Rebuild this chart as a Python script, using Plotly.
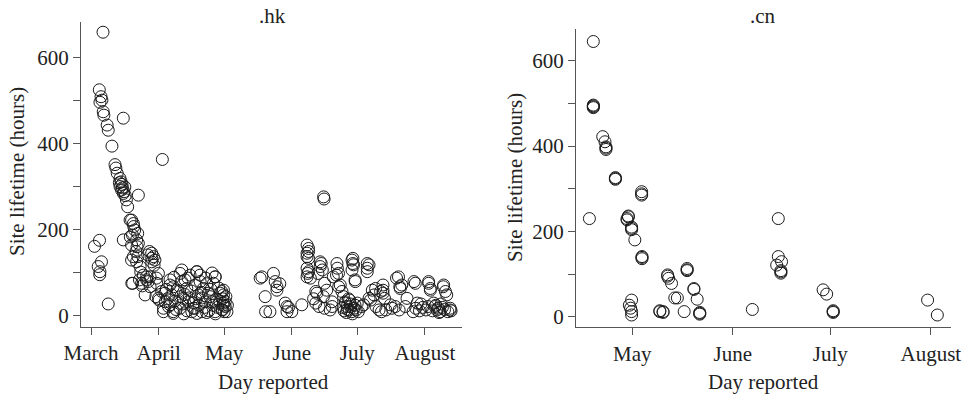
import plotly.graph_objects as go
import pandas as pd

# ---------------- data ----------------
# days since 1 March 2008 (day reported), site lifetime in hours
hk_day = [
    1.6, 3.9, 4.8, 3.3, 4.1, 4.0, 7.9,
    5.5, 3.8, 4.6, 5.0, 4.1, 5.6, 5.9, 7.4, 7.9, 9.6, 14.8, 11.0, 11.4, 12.0, 13.3, 13.3, 13.8,
    14.4, 14.0, 15.1, 15.7, 16.8, 21.7, 32.7,
    14.8, 18.6, 19.4, 18.6, 20.9, 21.7, 21.4, 18.6, 19.4, 20.9, 22.5, 19.1, 22.2, 24.8, 25.5, 27.1,
    27.8, 28.6, 27.8, 26.8, 29.3, 30.1, 30.9, 18.0, 19.6, 21.1, 21.5, 26.0, 27.8, 25.5, 26.2, 27.1,
    18.7, 23.2, 29.7, 31.2, 17.9, 14.2, 15.5, 13.0, 14.8, 16.2, 20.0, 19.0, 20.6, 22.8, 24.0, 23.5,
    28.9, 30.0,
    32.4, 34.0, 33.2, 36.2, 37.0, 36.2, 37.7, 40.8, 41.6, 40.0, 42.3, 40.8, 43.9, 44.6, 46.2, 45.4,
    48.5, 47.7, 49.2, 47.7, 51.5, 52.3, 50.8, 53.8, 55.4, 56.9, 56.9, 60.7, 61.5, 61.5, 62.3, 60.7,
    30.9, 33.2, 33.9, 36.2, 37.7, 41.6, 43.1, 48.5, 50.0, 56.9, 56.1, 59.2, 59.9, 60.7, 61.0, 48.5,
    46.9, 37.7,
    35.0, 35.5, 38.5, 39.0, 39.5, 42.0, 43.0, 44.0, 45.0, 46.0, 47.0, 48.0, 49.5, 50.5, 51.0, 52.0,
    53.0, 54.0, 54.5, 55.0, 56.0, 57.5, 58.0, 58.5, 59.0, 60.0, 61.8, 62.5, 34.5, 38.0, 41.0, 44.5,
    50.0, 52.5, 55.5, 53.0, 57.0, 42.5, 60.3, 60.5, 60.2,
    78.3, 77.5, 79.8, 82.0, 80.0, 83.6, 84.4, 85.2, 85.2, 86.5, 89.0, 89.8, 92.0, 89.8, 96.6, 90.5,
    99.0, 99.7, 99.7, 99.0, 99.0, 99.7, 99.0, 99.7, 99.3, 99.0, 100.5, 103.5, 103.0, 105.0, 105.5,
    105.0, 106.0, 104.0, 107.0, 103.0, 104.5, 107.0, 106.6, 106.8, 110.4, 109.6, 112.7, 112.9,
    113.4, 112.5, 113.5, 110.5, 114.2, 115.0, 115.7, 116.5, 116.7, 117.3, 118.3, 119.6, 120.0,
    120.0, 120.3, 119.6, 121.0, 121.1, 118.5, 119.0, 119.5, 121.5, 117.0, 118.0, 116.0, 122.0,
    111.0, 108.0, 106.5, 102.0, 124.0, 115.5, 117.5, 118.8, 119.8, 120.5, 121.0, 122.5,
    124.9, 126.6, 127.4, 126.6, 126.6, 127.4, 128.9, 128.1, 129.7, 130.4, 130.6, 132.0, 132.7,
    133.8, 133.8, 133.8, 134.5, 133.1, 135.1, 137.2, 137.9, 139.4, 141.2, 140.0, 140.9, 141.7,
    141.5, 142.4, 144.8, 144.0, 148.0, 148.6, 148.8, 147.6, 149.5,
    154.7, 154.7, 155.5, 155.5, 154.5, 157.6, 159.1, 158.5, 160.0, 161.6, 161.4, 162.4, 163.0,
    164.6, 164.6, 165.0, 152.0, 153.5, 156.5, 158.0, 159.5, 161.0, 162.0, 163.5, 160.5, 157.0,
    150.5, 151.2,
]
hk_hours = [
    162, 176, 126, 115, 103, 96, 28,
    660, 526, 510, 502, 497, 475, 467, 444, 432, 395, 460, 352, 344, 332, 320, 301, 312,
    298, 293, 289, 280, 254, 281, 364,
    177, 223, 215, 165, 177, 169, 192, 130, 138, 126, 115, 76, 84, 49, 91, 91,
    146, 138, 126, 150, 130, 76, 99, 184, 208, 161, 138, 142, 134, 84, 80, 68,
    76, 76, 45, 37, 223, 306, 300, 310, 285, 270, 200, 188, 150, 102, 95, 70,
    118, 88,
    57, 33, 10, 72, 49, 26, 6, 99, 80, 57, 41, 18, 64, 33, 10, 95,
    103, 72, 49, 18, 64, 33, 10, 53, 33, 91, 10, 49, 33, 22, 10, 60,
    41, 18, 53, 84, 68, 107, 84, 103, 80, 91, 76, 53, 57, 30, 10, 6,
    18, 10,
    40, 22, 35, 15, 60, 28, 50, 12, 42, 58, 30, 40, 25, 55, 42, 20,
    75, 12, 45, 62, 25, 40, 20, 65, 35, 15, 45, 25, 62, 90, 45, 88,
    95, 88, 100, 8, 5, 5, 40, 25, 14,
    91, 88, 45, 10, 10, 99, 80, 68, 60, 75, 30, 22, 10, 10, 26, 20,
    165, 157, 150, 146, 138, 134, 111, 103, 99, 91, 88, 53, 57, 126, 122,
    115, 107, 99, 76, 30, 22, 18, 277, 272, 33, 14, 122, 111,
    99, 95, 68, 22, 72, 57, 45, 33, 30, 22, 14, 130, 134,
    122, 119, 107, 84, 80, 37, 22, 10, 14, 8, 40, 12, 30,
    91, 60, 45, 40, 22, 20, 15, 28, 5, 18, 25, 10,
    26, 122, 119, 111, 103, 41, 60, 37, 49, 64, 22, 14, 57,
    60, 72, 53, 41, 10, 14, 26, 18, 22, 14, 88, 91, 64,
    68, 72, 41, 22, 80, 76, 18, 10, 30,
    80, 76, 64, 60, 22, 22, 18, 14, 10, 72, 68, 57, 49,
    18, 14, 12, 20, 14, 12, 25, 8, 20, 15, 10, 28, 30,
    12, 28,
]

cn_day = [
    49.0, 47.8, 49.0, 49.0, 49.0, 49.0, 51.9, 52.6, 52.9, 52.9, 52.9, 55.8, 55.8, 55.8,
    59.8, 59.8, 59.4, 59.4, 60.8, 60.8, 60.8, 61.8, 63.9, 63.9, 63.9, 64.0, 64.0, 64.0,
    60.1, 60.8, 60.8, 60.8, 60.5, 69.5, 69.5, 70.5, 70.5, 71.9, 71.9, 72.2, 73.1, 74.1, 74.9,
    77.0, 77.9, 77.9, 77.9, 80.0, 80.0, 81.0, 81.8, 81.8, 81.8, 98.0, 106.0, 106.0, 105.5,
    107.0, 106.8, 106.8, 106.8, 119.8, 120.9, 122.9, 122.9, 122.9, 152.0, 155.0,
]
cn_hours = [
    645, 230, 494, 490, 496, 492, 422, 410, 395, 398, 392, 324, 322, 326,
    234, 236, 227, 230, 207, 210, 204, 180, 293, 288, 285, 139, 136, 141,
    27, 39, 12, 4, 20, 12, 14, 12, 10, 95, 98, 90, 78, 44, 44,
    12, 113, 108, 110, 64, 66, 41, 8, 10, 6, 17, 230, 141, 121,
    129, 105, 102, 108, 63, 53, 12, 10, 14, 39, 4,
]

month_ticks = ["2008-03-01", "2008-04-01", "2008-05-01", "2008-06-01", "2008-07-01", "2008-08-01"]
month_labels = ["March", "April", "May", "June", "July", "August"]
cn_month_ticks = ["2008-05-01", "2008-06-01", "2008-07-01", "2008-08-01"]
cn_month_labels = ["May", "June", "July", "August"]
y_ticks = [0, 100, 200, 300, 400, 500, 600]
y_labels = ["0", "", "200", "", "400", "", "600"]

origin = pd.Timestamp("2008-03-01")
hk_dates = origin + pd.to_timedelta(hk_day, unit="D")
cn_dates = origin + pd.to_timedelta(cn_day, unit="D")

# ---------------- figure ----------------
W, H = 967, 397
FONT = "Liberation Serif"
TXT = "#222222"
AX = "#555555"

marker = dict(symbol="circle-open", size=12, color="#1a1a1a", line=dict(width=1, color="#1a1a1a"))

fig = go.Figure()
fig.add_trace(go.Scatter(x=hk_dates, y=hk_hours, mode="markers", marker=marker,
                         xaxis="x", yaxis="y", showlegend=False, hoverinfo="skip"))
fig.add_trace(go.Scatter(x=cn_dates, y=cn_hours, mode="markers", marker=marker,
                         xaxis="x2", yaxis="y2", showlegend=False, hoverinfo="skip"))

def px(x):
    return x / W

def py(y):
    return 1 - y / H

common_axis = dict(showline=True, linecolor=AX, linewidth=1, ticks="outside", ticklen=7,
                   tickcolor=AX, tickwidth=1, showgrid=False, zeroline=False, automargin=False,
                   tickfont=dict(family=FONT, size=21, color=TXT))

fig.update_layout(
    width=W, height=H, autosize=False,
    margin=dict(l=0, r=0, t=0, b=0, pad=0, autoexpand=False),
    paper_bgcolor="white", plot_bgcolor="white",
    font=dict(family=FONT, size=21, color=TXT),
    xaxis=dict(domain=[px(81), px(462)], anchor="y", type="date",
               range=["2008-02-25 10:00", "2008-08-18 00:00"],
               tickvals=month_ticks, ticktext=month_labels, **common_axis),
    yaxis=dict(domain=[py(327), py(22)], anchor="x", range=[-25.6, 683.7],
               tickvals=y_ticks, ticktext=y_labels, **common_axis),
    xaxis2=dict(domain=[px(576), px(951)], anchor="y2", type="date",
                range=["2008-04-13 16:00", "2008-08-07 05:00"],
                tickvals=cn_month_ticks, ticktext=cn_month_labels, **common_axis),
    yaxis2=dict(domain=[py(327.3), py(29)], anchor="x2", range=[-24.8, 674.3],
                tickvals=y_ticks, ticktext=y_labels, **common_axis),
)

def ann(text, x, y, angle=0):
    fig.add_annotation(text=text, x=px(x), y=py(y), xref="paper", yref="paper",
                       xanchor="center", yanchor="middle", showarrow=False, textangle=angle,
                       font=dict(family=FONT, size=21, color=TXT))

ann(".hk", 272, 16)
ann(".cn", 763, 16)
ann("Day reported", 273, 382)
ann("Day reported", 763, 382)
ann("Site lifetime (hours)", 17, 172, -90)
ann("Site lifetime (hours)", 515, 178, -90)

fig.write_html("out.html", config={"displayModeBar": False, "staticPlot": True},
               post_script="document.body.style.margin='0';")
